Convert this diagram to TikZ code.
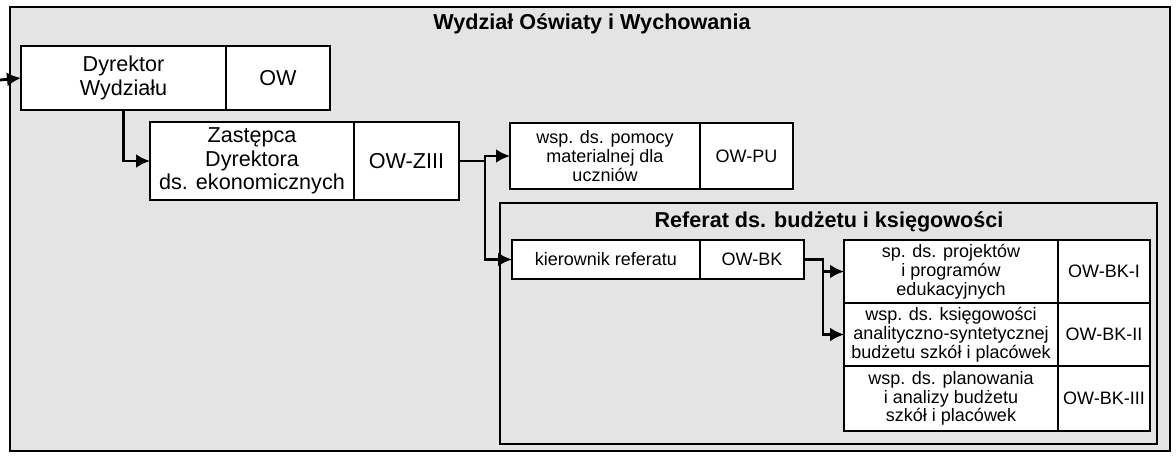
\documentclass[tikz,border=0pt]{standalone}
\usepackage{fontspec}
\setmainfont{Liberation Sans}
\usetikzlibrary{positioning, arrows.meta}

\definecolor{szary}{RGB}{228, 228, 228}

\tikzset{
  komorka/.style={draw, fill=white, line width=0.8pt, outer sep=0pt, inner sep=1pt, align=center},
  duzy/.style={font=\fontsize{10.8}{11.7}\selectfont},
  maly/.style={font=\fontsize{9}{9.4}\selectfont},
  tytul/.style={font=\fontsize{10.8}{12}\selectfont\bfseries},
  strz/.style={line width=1.4pt, -{Latex[length=7pt, width=7pt]}},
}

\begin{document}
\begin{tikzpicture}[x=0.5pt, y=-0.5pt]
  \useasboundingbox (0,0) rectangle (1176,455);
  \coordinate (W1) at (10,7);
  \coordinate (W2) at (1170,451);
  \coordinate (R1) at (500,203);
  \coordinate (R2) at (1157,444);
  \coordinate (wejscie) at (0,80);

  % ramki
  \draw[fill=szary, line width=0.8pt] (W1) rectangle (W2);
  \draw[fill=szary, line width=0.8pt] (R1) rectangle (R2);
  \node[tytul] (wydzial) at (592,24) {Wydział Oświaty i Wychowania};
  \node[tytul] (referat) at (829,222) {Referat ds. budżetu i księgowości};

  \node[komorka, duzy, anchor=north west, minimum width=102.5pt, minimum height=32pt] (dyr) at (21,46) {Dyrektor\\Wydziału};
  \node[komorka, duzy, right=0pt of dyr, minimum width=52pt, minimum height=32pt] (dyrk) {OW};

  \node[komorka, duzy, anchor=north west, minimum width=102pt, minimum height=39pt] (zast) at (150,122) {Zastępca\\Dyrektora\\ds. ekonomicznych};
  \node[komorka, duzy, right=0pt of zast, minimum width=52.5pt, minimum height=39pt] (zastk) {OW-ZIII};

  \node[komorka, maly, anchor=north west, minimum width=95pt, minimum height=33pt] (pu) at (510,123) {wsp. ds. pomocy\\materialnej dla\\uczniów};
  \node[komorka, maly, right=0pt of pu, minimum width=46.5pt, minimum height=33pt] (puk) {OW-PU};

  \node[komorka, maly, anchor=north west, minimum width=94pt, minimum height=19.5pt] (kier) at (512,240) {kierownik referatu};
  \node[komorka, maly, right=0pt of kier, minimum width=52pt, minimum height=19.5pt] (kierk) {OW-BK};

  \node[komorka, maly, anchor=north west, minimum width=107pt, minimum height=31.5pt] (sp1) at (844,240) {sp. ds. projektów\\i programów\\edukacyjnych};
  \node[komorka, maly, right=0pt of sp1, minimum width=46pt, minimum height=31.5pt] (sp1k) {OW-BK-I};
  \node[komorka, maly, below=0pt of sp1, minimum width=107pt, minimum height=31.5pt] (sp2) {wsp. ds. księgowości\\analityczno-syntetycznej\\budżetu szkół i placówek};
  \node[komorka, maly, right=0pt of sp2, minimum width=46pt, minimum height=31.5pt] (sp2k) {OW-BK-II};
  \node[komorka, maly, below=0pt of sp2, minimum width=107pt, minimum height=32.5pt] (sp3) {wsp. ds. planowania\\i analizy budżetu\\szkół i placówek};
  \node[komorka, maly, right=0pt of sp3, minimum width=46pt, minimum height=32.5pt] (sp3k) {OW-BK-III};

  % polaczenia
  \draw[strz] (wejscie) -- (dyr.west);
  \draw[strz] (dyr.south) |- (zast.west);
  \draw[strz] (zastk.east) -- ++(26,0) coordinate (rozg1) |- (pu.west);
  \draw[strz] (rozg1) |- (kier.west);
  \draw[strz] (kierk.east) -- ++(19,0) coordinate (rozg2) |- (sp1.west);
  \draw[strz] (rozg2) |- (sp2.west);
\end{tikzpicture}
\end{document}
